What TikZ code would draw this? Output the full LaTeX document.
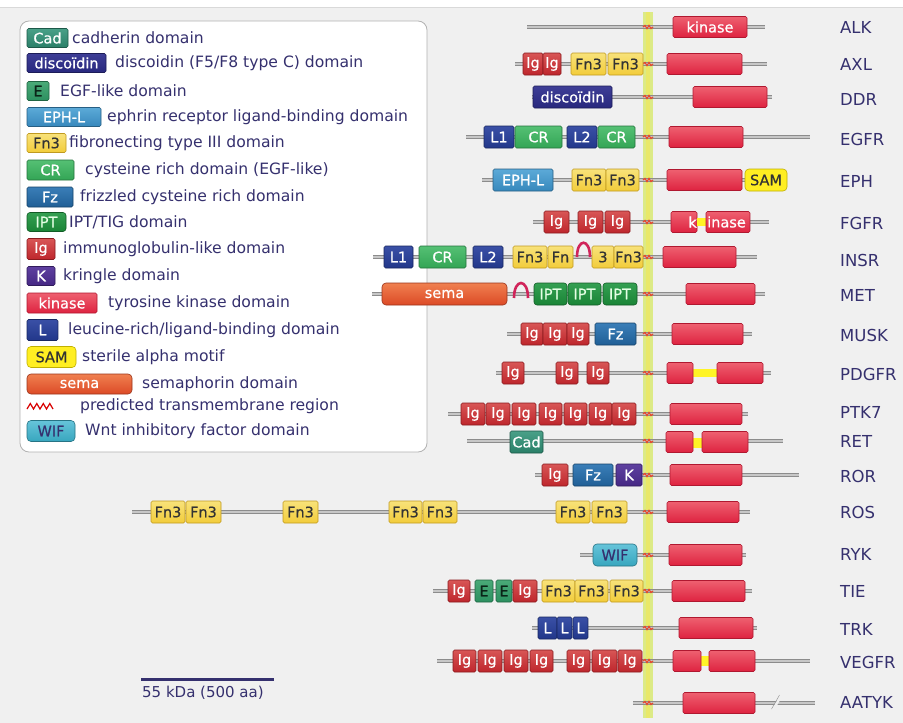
\documentclass[tikz,border=0pt]{standalone}
\usepackage{fontspec}
\setmainfont{DejaVu Sans}
\newfontfamily\boxf{DejaVu Sans}[FakeBold=0.6]
\definecolor{bgc}{HTML}{F0F0F0}
\definecolor{navy}{HTML}{35306E}
\definecolor{igF}{HTML}{BE262C}\definecolor{igT}{HTML}{D85656}\definecolor{igB}{HTML}{8A1A1E}
\definecolor{kinF}{HTML}{DE2340}\definecolor{kinT}{HTML}{EE6070}\definecolor{kinB}{HTML}{B01830}
\definecolor{fnF}{HTML}{F2CC3A}\definecolor{fnT}{HTML}{F8E27A}\definecolor{fnB}{HTML}{C09A20}
\definecolor{samF}{HTML}{FFEE22}\definecolor{samB}{HTML}{C0B000}
\definecolor{cadF}{HTML}{2A7F68}\definecolor{cadT}{HTML}{4AA088}
\definecolor{dscF}{HTML}{28287E}\definecolor{dscT}{HTML}{3E3E96}
\definecolor{eF}{HTML}{2C9060}\definecolor{eT}{HTML}{4AAA78}
\definecolor{ephF}{HTML}{3788BC}\definecolor{ephT}{HTML}{5CAAD8}
\definecolor{crF}{HTML}{33A555}\definecolor{crT}{HTML}{55C074}
\definecolor{fzF}{HTML}{205F96}\definecolor{fzT}{HTML}{3A7EB8}
\definecolor{iptF}{HTML}{1A8436}\definecolor{iptT}{HTML}{34A052}
\definecolor{kF}{HTML}{462884}\definecolor{kT}{HTML}{5E40A0}
\definecolor{lF}{HTML}{22378A}\definecolor{lT}{HTML}{3A50A6}
\definecolor{semF}{HTML}{DC4A26}\definecolor{semT}{HTML}{F08050}
\definecolor{wifF}{HTML}{38A6BE}\definecolor{wifT}{HTML}{66C4DA}
\definecolor{tmF}{HTML}{DCEA86}\definecolor{tmM}{HTML}{E02A0A}
\definecolor{archc}{HTML}{D0245A}
\newcommand{\dom}[6]{\node[#2, minimum width={(#4)-(#3)}] (#1) at ({((#3)+(#4))/2},#5) {#6};}
\newcommand{\bbone}[4]{\coordinate (#1s) at (#2,#4); \coordinate (#1e) at (#3,#4); \draw[backbone] (#1s) -- (#1e);}
\newcommand{\tmk}[1]{\draw[tmline] (643,#1) -- (645,{#1-1.6}) -- (647,{#1+1.6}) -- (649,{#1-1.6}) -- (651,{#1+1.6}) -- (653,#1);}
\begin{document}
\begin{tikzpicture}[x=1pt,y=-1pt,
  backbone/.style={draw=black!45, double=black!22, double distance=2.6pt, line width=0.9pt},
  tmline/.style={draw=tmM!85, line width=1.2pt},
  dbase/.style={rectangle, rounded corners=1.5pt, inner sep=0pt, minimum height=22, line width=0.6pt, font=\boxf\fontsize{14.5}{16}\selectfont},
  ig/.style={dbase, draw=igB, top color=igT, bottom color=igF, text=white},
  kin/.style={dbase, minimum height=21, draw=kinB, top color=kinT, bottom color=kinF, text=white},
  fn/.style={dbase, draw=fnB, top color=fnT, bottom color=fnF, text=black!80},
  sam/.style={dbase, rounded corners=4pt, draw=samB, fill=samF, text=black!80},
  cad/.style={dbase, draw=cadF!70!black, top color=cadT, bottom color=cadF, text=white},
  dsc/.style={dbase, draw=dscF!70!black, top color=dscT, bottom color=dscF, text=white},
  egf/.style={dbase, draw=eF!70!black, top color=eT, bottom color=eF, text=black!75!eF},
  eph/.style={dbase, draw=ephF!70!black, top color=ephT, bottom color=ephF, text=white},
  cr/.style={dbase, draw=crF!70!black, top color=crT, bottom color=crF, text=white},
  fz/.style={dbase, draw=fzF!70!black, top color=fzT, bottom color=fzF, text=white},
  ipt/.style={dbase, rounded corners=3pt, draw=iptF!70!black, top color=iptT, bottom color=iptF, text=green!10},
  kr/.style={dbase, draw=kF!70!black, top color=kT, bottom color=kF, text=white},
  ll/.style={dbase, draw=lF!70!black, top color=lT, bottom color=lF, text=white},
  sema/.style={dbase, rounded corners=4pt, draw=semF!70!black, top color=semT, bottom color=semF, text=white},
  wif/.style={dbase, rounded corners=4pt, draw=wifF!70!black, top color=wifT, bottom color=wifF, text=navy},
  yel/.style={rectangle, inner sep=0pt, fill=yellow!85!white, draw=none},
  lab/.style={anchor=west, inner sep=0pt, text=navy, font=\fontsize{16.5}{19}\selectfont},
  lgt/.style={anchor=west, inner sep=0pt, text=navy, font=\fontsize{15.6}{18}\selectfont},
  arch/.style={draw=archc, line width=2.6pt}
]
\useasboundingbox (0,0) rectangle (903,723);
\fill[white] (0,0) rectangle (903,723);
\fill[bgc] (0,7) rectangle (903,723);
\draw[black!15] (0,7) -- (903,7);
% legend
\draw[rounded corners=9pt, fill=white, draw=black!30, line width=0.8pt] (20,21) rectangle (427,452);
\dom{g1}{cad,minimum height=19}{27}{68}{38}{Cad}
\node[lgt] (h1) at (72,38) {cadherin domain};
\dom{g2}{dsc,minimum height=19}{27}{106}{63}{discoïdin}
\node[lgt] (h2) at (115,63) {discoidin (F5/F8 type C) domain};
\dom{g3}{egf,minimum height=19}{27}{49}{91}{E}
\node[lgt] (h3) at (60,91) {EGF-like domain};
\dom{g4}{eph,minimum height=19}{27}{101}{117}{EPH-L}
\node[lgt] (h4) at (107,117) {ephrin receptor ligand-binding domain};
\dom{g5}{fn,minimum height=19}{27}{66}{143}{Fn3}
\node[lgt] (h5) at (69,143) {fibronecting type III domain};
\dom{g6}{cr,minimum height=20}{27}{74}{170}{CR}
\node[lgt] (h6) at (85,170) {cysteine rich domain (EGF-like)};
\dom{g7}{fz,minimum height=20}{27}{73}{197}{Fz}
\node[lgt] (h7) at (80,197) {frizzled cysteine rich domain};
\dom{g8}{ipt,minimum height=19}{27}{66}{222}{IPT}
\node[lgt] (h8) at (69,222) {IPT/TIG domain};
\dom{g9}{ig,minimum height=21}{27}{55}{249}{Ig}
\node[lgt] (h9) at (63,249) {immunoglobulin-like domain};
\dom{g10}{kr,minimum height=19}{27}{55}{276}{K}
\node[lgt] (h10) at (63,276) {kringle domain};
\dom{g11}{kin,minimum height=20}{27}{97}{303}{kinase}
\node[lgt] (h11) at (108,303) {tyrosine kinase domain};
\dom{g12}{ll,minimum height=21}{27}{58}{330}{L}
\node[lgt] (h12) at (68,330) {leucine-rich/ligand-binding domain};
\dom{g13}{sam,minimum height=21}{27}{76}{357}{SAM}
\node[lgt] (h13) at (82,357) {sterile alpha motif};
\dom{g14}{sema,minimum height=20}{27}{132}{384}{sema}
\node[lgt] (h14) at (142,384) {semaphorin domain};
\draw[red!85!black, line width=1.2pt] (27,409) -- (30.3,403.5) -- (33.5,409) -- (36.8,403.5) -- (40,409) -- (43.3,403.5) -- (46.5,409) -- (49.8,403.5) -- (53,409);
\node[lgt] (h15) at (80,406) {predicted transmembrane region};
\dom{g16}{wif,minimum height=21}{27}{75}{431}{WIF}
\node[lgt] (h16) at (85,431) {Wnt inhibitory factor domain};
% transmembrane strip
\fill[tmF] (643,12) rectangle (653,718);
\fill[yellow!30!tmF] (646,12) rectangle (650,718);
% backbones
\bbone{alk}{527}{765}{27}
\bbone{axl}{515}{767}{64}
\bbone{ddr}{532}{772}{97}
\bbone{egfr}{466}{810}{137}
\bbone{eph}{482}{775}{180}
\bbone{fgfr}{533}{769}{222}
\bbone{insr}{373}{757}{257}
\bbone{met}{372}{765}{294}
\bbone{musk}{507}{752}{334}
\bbone{pdgfr}{496}{771}{373}
\bbone{ptk}{448}{748}{414}
\bbone{ret}{467}{783}{441}
\bbone{ror}{535}{799}{475}
\bbone{ros}{132}{750}{512}
\bbone{ryk}{580}{746}{555}
\bbone{tie}{433}{752}{591}
\bbone{trk}{532}{757}{628}
\bbone{vegfr}{437}{810}{661}
\bbone{aatyk}{633}{815}{703}
\foreach \yy in {27,64,97,137,180,222,257,294,334,373,414,441,475,512,555,591,628,661,703} {\tmk{\yy}}
% ALK
\dom{alkK}{kin}{673}{747}{27}{kinase}
% AXL
\dom{axl1}{ig}{523}{543}{64}{Ig}
\dom{axl2}{ig}{543}{561}{64}{Ig}
\dom{axl3}{fn}{571}{606}{64}{Fn3}
\dom{axl4}{fn}{608}{643}{64}{Fn3}
\dom{axlK}{kin}{667}{742}{64}{}
% DDR
\dom{ddr1}{dsc}{533}{612}{97}{discoïdin}
\dom{ddrK}{kin}{693}{767}{97}{}
% EGFR
\dom{egfr1}{ll}{484}{514}{137}{L1}
\dom{egfr2}{cr}{515}{562}{137}{CR}
\dom{egfr3}{ll}{567}{597}{137}{L2}
\dom{egfr4}{cr}{598}{635}{137}{CR}
\dom{egfrK}{kin}{669}{743}{137}{}
% EPH
\dom{eph1}{eph}{493}{553}{180}{EPH-L}
\dom{eph2}{fn}{572}{606}{180}{Fn3}
\dom{eph3}{fn}{606}{639}{180}{Fn3}
\dom{ephK}{kin}{667}{742}{180}{}
\dom{eph4}{sam}{745}{787}{180}{SAM}
% FGFR
\dom{fgfr1}{ig}{544}{569}{222}{Ig}
\dom{fgfr2}{ig}{578}{603}{222}{Ig}
\dom{fgfr3}{ig}{605}{630}{222}{Ig}
\dom{fgfrKa}{kin}{671}{697}{222}{}
\dom{fgfrY}{yel,minimum height=8}{697}{706}{222}{}
\dom{fgfrKb}{kin}{706}{750}{222}{}
\node[text=white, font=\boxf\fontsize{14.5}{16}\selectfont, anchor=east, inner sep=0pt] (fgfrk) at (697,222) {k};
\node[text=white, font=\boxf\fontsize{14.5}{16}\selectfont, anchor=west, inner sep=0pt] (fgfri) at (707,222) {inase};
% INSR
\dom{insr1}{ll}{384}{413}{257}{L1}
\dom{insr2}{cr}{419}{466}{257}{CR}
\dom{insr3}{ll}{473}{503}{257}{L2}
\dom{insr4}{fn}{513}{547}{257}{Fn3}
\dom{insr5}{fn}{548}{573}{257}{Fn}
\dom{insr6}{fn}{592}{614}{257}{3}
\dom{insr7}{fn}{614}{643}{257}{Fn3}
\draw[arch] (577,257) .. controls (577,238) and (590,238) .. (590,257);
\dom{insrK}{kin}{663}{736}{257}{}
% MET
\dom{met1}{sema}{382}{507}{294}{sema}
\draw[arch] (514,298) .. controls (514,278) and (528,278) .. (528,298);
\dom{met2}{ipt}{534}{567}{294}{IPT}
\dom{met3}{ipt}{568}{601}{294}{IPT}
\dom{met4}{ipt}{603}{637}{294}{IPT}
\dom{metK}{kin}{686}{755}{294}{}
% MUSK
\dom{musk1}{ig}{521}{543}{334}{Ig}
\dom{musk2}{ig}{543}{567}{334}{Ig}
\dom{musk3}{ig}{567}{589}{334}{Ig}
\dom{musk4}{fz}{595}{636}{334}{Fz}
\dom{muskK}{kin}{672}{743}{334}{}
% PDGFR
\dom{pdg1}{ig}{502}{524}{373}{Ig}
\dom{pdg2}{ig}{556}{578}{373}{Ig}
\dom{pdg3}{ig}{587}{609}{373}{Ig}
\dom{pdgY}{yel,minimum height=8}{692}{718}{373}{}
\dom{pdgKa}{kin}{667}{693}{373}{}
\dom{pdgKb}{kin}{717}{763}{373}{}
% PTK7
\dom{ptk1}{ig}{461}{485}{414}{Ig}
\dom{ptk2}{ig}{486}{510}{414}{Ig}
\dom{ptk3}{ig}{512}{536}{414}{Ig}
\dom{ptk4}{ig}{539}{562}{414}{Ig}
\dom{ptk5}{ig}{564}{587}{414}{Ig}
\dom{ptk6}{ig}{589}{612}{414}{Ig}
\dom{ptk7}{ig}{612}{636}{414}{Ig}
\dom{ptkK}{kin}{670}{742}{414}{}
% RET
\dom{ret1}{cad}{510}{543}{442}{Cad}
\dom{retY}{yel,minimum height=10}{692}{703}{443}{}
\dom{retKa}{kin}{666}{693}{442}{}
\dom{retKb}{kin}{702}{748}{442}{}
% ROR
\dom{ror1}{ig}{542}{568}{475}{Ig}
\dom{ror2}{fz}{573}{613}{475}{Fz}
\dom{ror3}{kr}{616}{642}{475}{K}
\dom{rorK}{kin}{670}{742}{475}{}
% ROS
\dom{ros1}{fn}{151}{185}{512}{Fn3}
\dom{ros2}{fn}{186}{221}{512}{Fn3}
\dom{ros3}{fn}{283}{318}{512}{Fn3}
\dom{ros4}{fn}{389}{422}{512}{Fn3}
\dom{ros5}{fn}{423}{457}{512}{Fn3}
\dom{ros6}{fn}{556}{590}{512}{Fn3}
\dom{ros7}{fn}{592}{627}{512}{Fn3}
\dom{rosK}{kin}{667}{739}{512}{}
% RYK
\dom{ryk1}{wif}{593}{637}{555}{WIF}
\dom{rykK}{kin}{669}{742}{555}{}
% TIE
\dom{tie1}{ig}{448}{470}{591}{Ig}
\dom{tie2}{egf}{475}{493}{591}{E}
\dom{tie3}{egf}{496}{512}{591}{E}
\dom{tie4}{ig}{513}{537}{591}{Ig}
\dom{tie5}{fn}{542}{575}{591}{Fn3}
\dom{tie6}{fn}{575}{608}{591}{Fn3}
\dom{tie7}{fn}{610}{643}{591}{Fn3}
\dom{tieK}{kin}{672}{745}{591}{}
% TRK
\dom{trk1}{ll}{538}{557}{628}{L}
\dom{trk2}{ll}{557}{572}{628}{L}
\dom{trk3}{ll}{573}{588}{628}{L}
\dom{trkK}{kin}{679}{753}{628}{}
% VEGFR
\dom{veg1}{ig}{453}{476}{661}{Ig}
\dom{veg2}{ig}{478}{502}{661}{Ig}
\dom{veg3}{ig}{504}{528}{661}{Ig}
\dom{veg4}{ig}{530}{553}{661}{Ig}
\dom{veg5}{ig}{567}{590}{661}{Ig}
\dom{veg6}{ig}{592}{617}{661}{Ig}
\dom{veg7}{ig}{618}{642}{661}{Ig}
\dom{vegY}{yel,minimum height=10}{700}{710}{661}{}
\dom{vegKa}{kin}{673}{701}{661}{}
\dom{vegKb}{kin}{709}{755}{661}{}
% AATYK
\dom{aatK}{kin}{683}{755}{703}{}
\draw[bgc, line width=2.4pt] (773,710) -- (781,696);
\draw[black!40, line width=0.5pt] (771.5,709) -- (779.5,695);
% labels
\node[lab] (nALK) at (840,27) {ALK};
\node[lab] (nAXL) at (840,64) {AXL};
\node[lab] (nDDR) at (840,99) {DDR};
\node[lab] (nEGFR) at (840,139) {EGFR};
\node[lab] (nEPH) at (840,181) {EPH};
\node[lab] (nFGFR) at (840,223) {FGFR};
\node[lab] (nINSR) at (840,260) {INSR};
\node[lab] (nMET) at (840,295) {MET};
\node[lab] (nMUSK) at (840,335) {MUSK};
\node[lab] (nPDGFR) at (840,374) {PDGFR};
\node[lab] (nPTK7) at (840,412) {PTK7};
\node[lab] (nRET) at (840,441) {RET};
\node[lab] (nROR) at (840,476) {ROR};
\node[lab] (nROS) at (840,512) {ROS};
\node[lab] (nRYK) at (840,554) {RYK};
\node[lab] (nTIE) at (840,591) {TIE};
\node[lab] (nTRK) at (840,629) {TRK};
\node[lab] (nVEGFR) at (840,662) {VEGFR};
\node[lab] (nAATYK) at (840,702) {AATYK};
% scale bar
\coordinate (sb1) at (141,679);
\coordinate (sb2) at (274,679);
\draw[navy, line width=3pt] (sb1) -- (sb2);
\node[lgt, font=\fontsize{15}{17}\selectfont] (sbt) at (142,693) {55 kDa (500 aa)};
\end{tikzpicture}
\end{document}
